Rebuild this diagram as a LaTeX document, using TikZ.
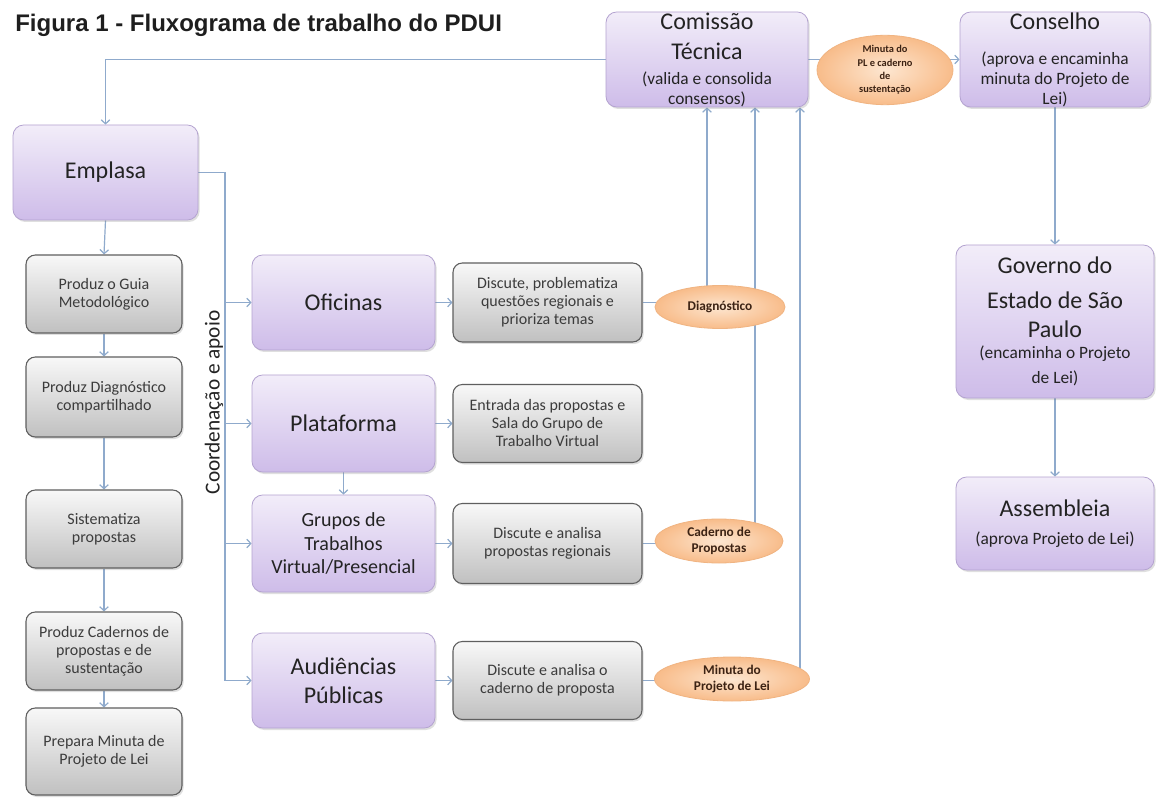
\documentclass[tikz,border=0pt]{standalone}
\usepackage{fontspec}
\setmainfont{Carlito}
\newfontfamily\titlefont{Liberation Sans}
\usetikzlibrary{shapes.geometric,arrows.meta,shadows,calc}
\pgfdeclarelayer{bg}
\pgfsetlayers{bg,main}
\newdimen\px \px=0.75pt
\definecolor{lnc}{RGB}{143,170,204}
\definecolor{ptop}{RGB}{242,237,249}
\definecolor{pbot}{RGB}{206,188,233}
\definecolor{pline}{RGB}{180,163,208}
\definecolor{gtop}{RGB}{248,248,248}
\definecolor{gbot}{RGB}{192,192,192}
\definecolor{gline}{RGB}{95,95,95}
\definecolor{oin}{RGB}{253,230,208}
\definecolor{oout}{RGB}{248,188,138}
\definecolor{oline}{RGB}{240,180,130}
\definecolor{tdark}{RGB}{35,35,35}
\definecolor{gtext}{RGB}{60,60,60}
\definecolor{otext}{RGB}{60,35,20}
\definecolor{titlecol}{RGB}{30,30,30}
\tikzset{
  pbox/.style={rectangle, rounded corners=8pt, draw=pline, line width=0.6pt,
    top color=ptop, bottom color=pbot, text=tdark, align=center, inner sep=0pt,
    drop shadow={shadow xshift=1.2pt,shadow yshift=-1.5pt,opacity=0.25}},
  gbox/.style={rectangle, rounded corners=7pt, draw=gline, line width=0.8pt,
    top color=gtop, bottom color=gbot, text=gtext, align=center, inner sep=0pt,
    font=\fontsize{12}{13.5}\selectfont,
    drop shadow={shadow xshift=1.2pt,shadow yshift=-1.5pt,opacity=0.25}},
  oval/.style={ellipse, draw=oline, line width=0.6pt, inner color=oin, outer color=oout,
    text=otext, align=center, inner sep=0pt, font=\bfseries\fontsize{10}{12.5}\selectfont},
  conn/.style={draw=lnc, line width=0.9pt},
  arr/.style={conn, -{Straight Barb[length=3pt,width=6.5pt]}},
}
\begin{document}
\begin{tikzpicture}[x=0.75pt,y=-0.75pt]
\useasboundingbox (0,0) rectangle (1156,798);

% title
\node[anchor=base west, inner sep=0pt, text=titlecol,
  font=\titlefont\bfseries\fontsize{18}{21}\selectfont] (title) at (15,32)
  {Figura 1 - Fluxograma de trabalho do PDUI};

% top row
\node[pbox, minimum width=202\px, minimum height=95\px, font=\fontsize{18}{22.5}\selectfont] (com) at (707,59.5)
  {Comissão\\Técnica\\[-3.75pt]{\fontsize{13}{15}\selectfont (valida e consolida}\\[-7.5pt]{\fontsize{13}{15}\selectfont consensos)}};
\node[oval, minimum width=136\px, minimum height=56\px, font=\bfseries\fontsize{7.8}{10}\selectfont] (etop) at (885,70)
  {Minuta do\\PL e caderno\\de\\sustentação};
\node[pbox, minimum width=190\px, minimum height=95\px, font=\fontsize{13}{15}\selectfont] (cons) at (1055,59.5)
  {{\fontsize{18}{22}\selectfont Conselho}\\[11.25pt](aprova e encaminha\\minuta do Projeto de\\Lei)};

% right column
\node[pbox, minimum width=198\px, minimum height=153\px, font=\fontsize{18}{22}\selectfont] (gov) at (1055,321.5)
  {Governo do\\[4pt]Estado de São\\Paulo\\[-6.25pt]{\fontsize{13}{15}\selectfont (encaminha o Projeto}\\[-3.25pt]{\fontsize{13}{15}\selectfont de Lei)}};
\node[pbox, minimum width=198\px, minimum height=93\px, font=\fontsize{18}{22}\selectfont] (asm) at (1055,523.5)
  {Assembleia\\[-1pt]{\fontsize{13}{15}\selectfont (aprova Projeto de Lei)}};

% left column
\node[pbox, minimum width=185\px, minimum height=95\px, font=\fontsize{18}{22}\selectfont] (emp) at (105.5,172.5) {Emplasa};
\node[gbox, minimum width=156\px, minimum height=78\px] (guia) at (104,294) {Produz o Guia\\Metodológico};
\node[gbox, minimum width=156\px, minimum height=80\px] (pdiag) at (104,397) {Produz Diagnóstico\\compartilhado};
\node[gbox, minimum width=156\px, minimum height=78\px] (sist) at (104,529) {Sistematiza\\propostas};
\node[gbox, minimum width=156\px, minimum height=78\px] (pcad) at (104,651) {Produz Cadernos de\\propostas e de\\sustentação};
\node[gbox, minimum width=156\px, minimum height=87\px] (prep) at (104,751.5) {Prepara Minuta de\\Projeto de Lei};

\node[rotate=90, inner sep=0pt, text=tdark, font=\fontsize{16}{18}\selectfont] (coord) at (214,402.5) {Coordenação e apoio};

% middle column
\node[pbox, minimum width=183\px, minimum height=95\px, font=\fontsize{18}{22}\selectfont] (ofi) at (343.5,302.5) {Oficinas};
\node[pbox, minimum width=183\px, minimum height=97\px, font=\fontsize{18}{22}\selectfont] (pla) at (343.5,423.5) {Plataforma};
\node[pbox, minimum width=183\px, minimum height=97\px, font=\fontsize{15}{17.6}\selectfont] (gru) at (343.5,543.5) {Grupos de\\Trabalhos\\Virtual/Presencial};
\node[pbox, minimum width=183\px, minimum height=95\px, font=\fontsize{18}{21.75}\selectfont] (aud) at (343.5,680.5) {Audiências\\Públicas};

\node[gbox, minimum width=189\px, minimum height=79\px] (g1) at (547.5,302.5) {Discute, problematiza\\questões regionais e\\prioriza temas};
\node[gbox, minimum width=189\px, minimum height=78\px] (g2) at (547.5,423.5) {Entrada das propostas e\\Sala do Grupo de\\Trabalho Virtual};
\node[gbox, minimum width=189\px, minimum height=80\px] (g3) at (547.5,543.5) {Discute e analisa\\propostas regionais};
\node[gbox, minimum width=189\px, minimum height=78\px] (g4) at (547.5,680.5) {Discute e analisa o\\caderno de proposta};

\node[oval, minimum width=130\px, minimum height=43\px] (ediag) at (720,307) {Diagnóstico};
\node[oval, minimum width=128\px, minimum height=44\px] (ecad) at (719,541) {Caderno de\\Propostas};
\node[oval, minimum width=155\px, minimum height=44\px] (emin) at (732,679) {Minuta do\\Projeto de Lei};

\coordinate (bus) at (225,172.5);
\coordinate (x2) at (755,0);
\coordinate (x3) at (800,0);

\begin{pgfonlayer}{bg}
\fill[white] (0,0) rectangle (1156,798);
% top
\draw[arr] (com.west) -| (emp.north);
\draw[conn] (com.east) -- (com.east -| etop.center);
\draw[arr] (etop.center |- cons.west) -- (cons.west);
\draw[arr] (cons.south) -- (gov.north);
\draw[arr] (gov.south) -- (asm.north);
% left column
\draw[arr] (emp.south) -- (guia.north);
\draw[arr] (guia.south) -- (pdiag.north);
\draw[arr] (pdiag.south) -- (sist.north);
\draw[arr] (sist.south) -- (pcad.north);
\draw[arr] (pcad.south) -- (prep.north);
% bus
\draw[arr] (emp.east) -- (bus) -- (bus |- aud.west) -- (aud.west);
\draw[arr] (bus |- ofi.west) -- (ofi.west);
\draw[arr] (bus |- pla.west) -- (pla.west);
\draw[arr] (bus |- gru.west) -- (gru.west);
\draw[arr] (pla.south) -- (gru.north);
% to grey
\draw[arr] (ofi.east) -- (g1.west);
\draw[arr] (pla.east) -- (g2.west);
\draw[arr] (gru.east) -- (g3.west);
\draw[arr] (aud.east) -- (g4.west);
% to ellipses
\draw[conn] (g1.east) -- (g1.east -| ediag.center);
\draw[conn] (g3.east) -- (g3.east -| ecad.center);
\draw[conn] (g4.east) -- (g4.east -| emin.center);
% up to commission
\draw[arr] (ediag.center -| com.south) -- (com.south);
\draw[arr] (ecad.center -| x2) -- (com.south -| x2);
\draw[arr] (emin.center -| x3) -- (com.south -| x3);
\end{pgfonlayer}
\end{tikzpicture}
\end{document}
